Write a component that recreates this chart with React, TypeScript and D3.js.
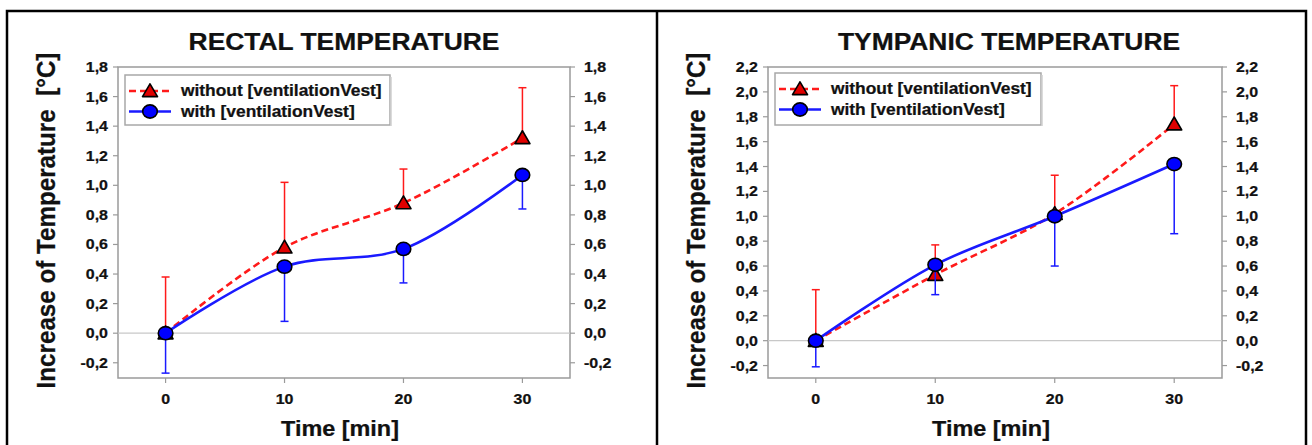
import React from 'react';
import * as d3 from 'd3';

// time points (min)
const times = [0, 10, 20, 30];

// rectal temperature increase
const rectalWithout = [0.0, 0.58, 0.88, 1.32];
const rectalWithoutSd = [0.38, 0.44, 0.23, 0.34];
const rectalWith = [0.0, 0.45, 0.57, 1.07];
const rectalWithSd = [0.27, 0.37, 0.23, 0.23];

// tympanic temperature increase
const tympWithout = [0.0, 0.53, 1.02, 1.74];
const tympWithoutSd = [0.41, 0.24, 0.31, 0.31];
const tympWith = [0.0, 0.61, 1.0, 1.42];
const tympWithSd = [0.21, 0.24, 0.4, 0.56];

const xTicks = [0, 10, 20, 30];
const rectalTicks = [-0.2, 0, 0.2, 0.4, 0.6, 0.8, 1.0, 1.2, 1.4, 1.6, 1.8];
const tympTicks = [-0.2, 0, 0.2, 0.4, 0.6, 0.8, 1.0, 1.2, 1.4, 1.6, 1.8, 2.0, 2.2];

const legendLabels = ['without [ventilationVest]', 'with [ventilationVest]'];

const SX = 1.1; // the picture is a bit stretched sideways
const FONT = "'Liberation Sans', Arial, sans-serif";
const RED = '#ff1a1a';
const BLUE = '#1a1aff';
const AXIS = '#9a9a9a';

const fmt = (v: number) => v.toFixed(1).replace('.', ',');

function Txt({ x, y, size, anchor = 'start', children, fill = '#111' }: any) {
  return (
    <text
      transform={`translate(${x},${y}) scale(${SX},1)`}
      fontFamily={FONT}
      fontWeight="bold"
      fontSize={size}
      textAnchor={anchor}
      fill={fill}
      stroke={fill}
      strokeWidth={0.25}
    >
      {children}
    </text>
  );
}

function Triangle({ cx, cy }: { cx: number; cy: number }) {
  const w = 7.5, h = 13;
  return (
    <path
      d={`M${cx - w},${cy + h / 2.3} L${cx + w},${cy + h / 2.3} L${cx},${cy - h / 1.8} Z`}
      fill="#e00000"
      stroke="#000"
      strokeWidth={1.6}
      strokeLinejoin="round"
    />
  );
}

function Dot({ cx, cy }: { cx: number; cy: number }) {
  return <ellipse cx={cx} cy={cy} rx={7.3} ry={6.6} fill="#0000ff" stroke="#000" strokeWidth={1.6} />;
}

function Panel(props: any) {
  const { left, right, top, bottom, yDomain, yTicks, without, withoutSd, withV, withSd,
    title, titleX, legend } = props;

  const x = d3.scaleLinear().domain([-4, 34]).range([left, right]);
  const y = d3.scaleLinear().domain(yDomain).range([bottom, top]);

  const line = d3.line<number>()
    .x((_, i) => x(times[i]))
    .y(d => y(d))
    .curve(d3.curveCatmullRom.alpha(0.5));

  const cap = 4;

  return (
    <g>
      {/* plot frame */}
      <rect x={left} y={top} width={right - left} height={bottom - top} fill="none" stroke={AXIS} strokeWidth={1.5} />
      <line x1={left} x2={right} y1={y(0)} y2={y(0)} stroke="#c8c8c8" strokeWidth={1.2} />

      {/* y ticks both sides */}
      {yTicks.map((t: number) => (
        <g key={t}>
          <line x1={left - 5} x2={left} y1={y(t)} y2={y(t)} stroke={AXIS} strokeWidth={1.2} />
          <line x1={right} x2={right + 5} y1={y(t)} y2={y(t)} stroke={AXIS} strokeWidth={1.2} />
          <Txt x={left - 10} y={y(t) + 5} size={14.5} anchor="end">{fmt(t)}</Txt>
          <Txt x={right + 14} y={y(t) + 5} size={14.5}>{fmt(t)}</Txt>
        </g>
      ))}
      {xTicks.map(t => (
        <g key={t}>
          <line x1={x(t)} x2={x(t)} y1={bottom} y2={bottom + 5} stroke={AXIS} strokeWidth={1.2} />
          <Txt x={x(t)} y={bottom + 26} size={14.5} anchor="middle">{t}</Txt>
        </g>
      ))}

      {/* titles */}
      <Txt x={titleX} y={50} size={24} anchor="middle">{title}</Txt>
      <Txt x={(left + right) / 2 - 4} y={436} size={21.3} anchor="middle">Time [min]</Txt>
      <text
        transform={`translate(${left - 63},${(top + bottom) / 2 - 2}) rotate(-90) scale(1,${SX})`}
        fontFamily={FONT}
        fontWeight="bold"
        fontSize={24.2}
        textAnchor="middle"
        fill="#111"
        stroke="#111"
        strokeWidth={0.25}
        style={{ whiteSpace: 'pre' }}
      >
        {'Increase of Temperature  [°C]'}
      </text>

      {/* without vest: red */}
      <path d={line(without) || ''} fill="none" stroke={RED} strokeWidth={2.6} strokeDasharray="7,4" />
      {without.map((v: number, i: number) => (
        <g key={'r' + i}>
          <line x1={x(times[i])} x2={x(times[i])} y1={y(v)} y2={y(v + withoutSd[i])} stroke={RED} strokeWidth={1.5} />
          <line x1={x(times[i]) - cap} x2={x(times[i]) + cap} y1={y(v + withoutSd[i])} y2={y(v + withoutSd[i])} stroke={RED} strokeWidth={1.5} />
        </g>
      ))}
      {without.map((v: number, i: number) => <Triangle key={'rt' + i} cx={x(times[i])} cy={y(v)} />)}

      {/* with vest: blue */}
      {withV.map((v: number, i: number) => (
        <g key={'b' + i}>
          <line x1={x(times[i])} x2={x(times[i])} y1={y(v)} y2={y(v - withSd[i])} stroke={BLUE} strokeWidth={1.5} />
          <line x1={x(times[i]) - cap} x2={x(times[i]) + cap} y1={y(v - withSd[i])} y2={y(v - withSd[i])} stroke={BLUE} strokeWidth={1.5} />
        </g>
      ))}
      <path d={line(withV) || ''} fill="none" stroke={BLUE} strokeWidth={2.6} />
      {withV.map((v: number, i: number) => <Dot key={'bd' + i} cx={x(times[i])} cy={y(v)} />)}

      {/* legend */}
      <rect x={legend.x} y={legend.y} width={legend.w} height={legend.h} fill="#fff" stroke="#a8a8a8" strokeWidth={1.5} />
      <line x1={legend.x + legend.w + 1} x2={legend.x + legend.w + 1} y1={legend.y + 2} y2={legend.y + legend.h + 1} stroke="#cfcfcf" strokeWidth={1.5} />
      {legendLabels.map((lab, i) => {
        const ry = legend.y + 16 + i * 20.5;
        const lx = legend.x + 4;
        return (
          <g key={lab}>
            <line x1={lx} x2={lx + 42} y1={ry} y2={ry} stroke={i === 0 ? RED : BLUE} strokeWidth={2.6} strokeDasharray={i === 0 ? '7,4' : undefined} />
            {i === 0 ? <Triangle cx={lx + 21} cy={ry} /> : <Dot cx={lx + 21} cy={ry} />}
            <Txt x={lx + 52} y={ry + 5} size={15.8}>{lab}</Txt>
          </g>
        );
      })}
    </g>
  );
}

export default function App() {
  return (
    <svg width={1312} height={445} style={{ position: 'absolute', left: 0, top: 0, background: '#fff' }}>
      <rect x={0} y={0} width={1312} height={445} fill="#fff" />
      {/* outer frames */}
      <path d="M7,460 L7,11 L1306,11 L1306,460 M657,11 L657,460" fill="none" stroke="#000" strokeWidth={2.5} />

      <Panel
        left={118} right={570} top={67} bottom={378}
        yDomain={[-0.303, 1.8]} yTicks={rectalTicks}
        without={rectalWithout} withoutSd={rectalWithoutSd}
        withV={rectalWith} withSd={rectalWithSd}
        title="RECTAL TEMPERATURE" titleX={344}
        legend={{ x: 125, y: 75, w: 265, h: 50 }}
      />
      <Panel
        left={768} right={1222} top={67} bottom={378}
        yDomain={[-0.3, 2.2]} yTicks={tympTicks}
        without={tympWithout} withoutSd={tympWithoutSd}
        withV={tympWith} withSd={tympWithSd}
        title="TYMPANIC TEMPERATURE" titleX={1009}
        legend={{ x: 775, y: 73, w: 266, h: 52 }}
      />
    </svg>
  );
}
